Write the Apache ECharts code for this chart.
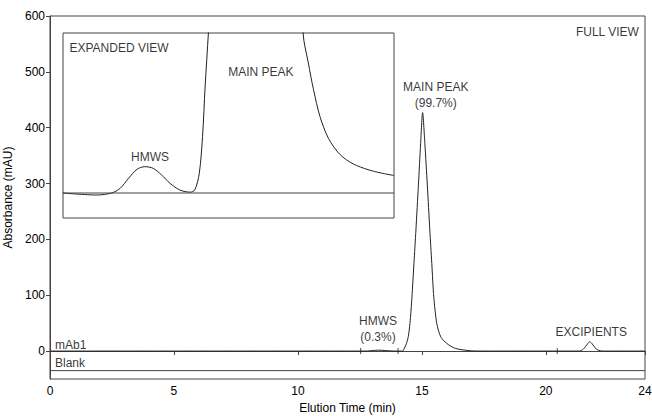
<!DOCTYPE html>
<html>
<head>
<meta charset="utf-8">
<script src="https://cdn.jsdelivr.net/npm/echarts@6/dist/echarts.min.js"></script>
<style>
  html, body { margin: 0; padding: 0; background: #fff; }
  #chart { width: 652px; height: 416px; }
</style>
</head>
<body>
<div id="chart"></div>
<script>
// Full-view chromatogram of mAb1 (elution time in min, absorbance in mAU)
const mab1Time = [0, 12.0, 12.75, 13.0, 13.26, 13.5, 13.8, 14.0, 14.22, 14.29, 14.38, 14.45, 14.52, 14.60,
  14.68, 14.76, 14.86, 14.95, 15.03, 15.12, 15.22, 15.32, 15.40, 15.48, 15.60, 15.76, 16.0, 16.35,
  16.9, 17.3, 21.35, 21.5, 21.6, 21.7, 21.77, 21.85, 21.95, 22.05, 22.2, 22.35, 24];
const mab1Abs = [0, 0, 0, 0.9, 1.6, 1.1, 0.2, 0, 0, 4.8, 13.8, 25.6, 49.6, 97,
  157, 217, 297, 372, 427, 372, 297, 217, 157, 97, 49.6, 25.6, 13.8, 4.8,
  0.8, 0, 0, 3, 8, 14, 16.7, 14, 8, 3, 0.5, 0, 0];

// Blank injection, drawn offset below the sample trace
const blankTime = [0, 24];
const blankAbs = [-35, -35];

// Integration event marks on the sample baseline
const eventTime = [12.53, 14.04, 20.46];

// Expanded view around the HMWS and main peak (same units, zoomed)
const zoomTime = [12.0, 12.52, 12.75, 12.88, 13.01, 13.14, 13.26, 13.39, 13.52, 13.65, 13.80, 13.96,
  14.03, 14.10, 14.15, 14.19, 14.24, 14.30, 14.45, 14.7, 15.03, 15.4, 15.6, 15.70, 15.78, 15.86,
  15.96, 16.09, 16.27, 16.47, 16.7, 16.9, 17.1];
const zoomAbs = [0, -0.12, 0, 0.28, 0.88, 1.42, 1.58, 1.48, 1.08, 0.58, 0.18, 0.05,
  0.18, 1.18, 3.38, 6.4, 9.6, 14, 60, 220, 427, 200, 30, 9.6, 7.8, 6.2,
  4.58, 3.28, 2.3, 1.75, 1.4, 1.2, 1.05];
const zoomBlankTime = [12.0, 17.1];
const zoomBlankAbs = [0, 0];

// Axis ticks
const xTicks = [0, 5, 10, 15, 20, 24];
const yTicks = [0, 100, 200, 300, 400, 500, 600];

// Annotations: text, time, absorbance, alignment
const fullNoteText = ['MAIN PEAK\n(99.7%)', 'HMWS\n(0.3%)', 'EXCIPIENTS', 'mAb1', 'Blank', 'FULL VIEW'];
const fullNoteTime = [15.56, 13.23, 21.83, 0.2, 0.2, 23.75];
const fullNoteAbs = [459, 39, 34.6, 10.7, -22, 572];
const fullNoteAlign = ['center', 'center', 'center', 'left', 'left', 'right'];

const zoomNoteText = ['EXPANDED VIEW', 'MAIN PEAK', 'HMWS'];
const zoomNoteTime = [12.1, 15.05, 13.34];
const zoomNoteAbs = [8.68, 7.28, 2.18];
const zoomNoteAlign = ['left', 'center', 'center'];

const ink = '#000';
const lineInk = '#222';
const axisInk = '#444';
const font = 'Liberation Sans, Arial, sans-serif';

const pairs = (xs, ys) => xs.map((x, i) => [x, ys[i]]);
const notes = (texts, xs, ys, aligns) => texts.map((t, i) => ({
  value: [xs[i], ys[i]],
  label: { formatter: t, align: aligns[i] }
}));

const chart = echarts.init(document.getElementById('chart'), null, { renderer: 'svg' });

chart.setOption({
  animation: false,
  backgroundColor: '#fff',
  textStyle: { fontFamily: font },
  grid: [
    { left: 50, right: 7, top: 16, bottom: 37, show: true, borderColor: axisInk, borderWidth: 1,
      containLabel: false, outerBoundsMode: 'none' },
    { left: 63, top: 33, width: 331, height: 185, show: true, borderColor: axisInk, borderWidth: 1,
      backgroundColor: '#fff', z: 5, containLabel: false, outerBoundsMode: 'none' }
  ],
  xAxis: [
    {
      type: 'value', gridIndex: 0, min: 0, max: 24,
      name: 'Elution Time (min)', nameLocation: 'middle', nameGap: 22,
      nameTextStyle: { fontSize: 12, color: ink, fontFamily: font },
      axisLine: { show: true, lineStyle: { color: axisInk, width: 1 } },
      axisTick: { show: true, length: 4, customValues: xTicks, lineStyle: { color: axisInk } },
      axisLabel: { customValues: xTicks, margin: 6, fontSize: 12, color: ink, fontFamily: font },
      splitLine: { show: false }
    },
    {
      type: 'value', gridIndex: 1, min: 12.0, max: 17.1, show: false, splitLine: { show: false }
    }
  ],
  yAxis: [
    {
      type: 'value', gridIndex: 0, min: -50, max: 600,
      name: 'Absorbance (mAU)', nameLocation: 'middle', nameGap: 29, nameRotate: 90,
      nameTextStyle: { fontSize: 12, color: ink, fontFamily: font },
      axisLine: { show: true, lineStyle: { color: axisInk, width: 1 } },
      axisTick: { show: true, length: 4, customValues: yTicks, lineStyle: { color: axisInk } },
      axisLabel: { customValues: yTicks, margin: 5, fontSize: 12, color: ink, fontFamily: font },
      splitLine: { show: false }
    },
    {
      type: 'value', gridIndex: 1, min: -1.5, max: 9.6, show: false, splitLine: { show: false }
    }
  ],
  series: [
    {
      name: 'mAb1', type: 'line', xAxisIndex: 0, yAxisIndex: 0,
      data: pairs(mab1Time, mab1Abs), showSymbol: false, symbol: 'none', smooth: 0.25,
      lineStyle: { color: lineInk, width: 1 }, z: 3
    },
    {
      name: 'Blank', type: 'line', xAxisIndex: 0, yAxisIndex: 0,
      data: pairs(blankTime, blankAbs), showSymbol: false, symbol: 'none',
      lineStyle: { color: axisInk, width: 1 }, z: 3
    },
    {
      name: 'events', type: 'scatter', xAxisIndex: 0, yAxisIndex: 0,
      data: eventTime.map(t => [t, 0]), symbol: 'rect', symbolSize: [1, 6],
      itemStyle: { color: lineInk }, z: 3
    },
    {
      name: 'fullNotes', type: 'scatter', xAxisIndex: 0, yAxisIndex: 0,
      data: notes(fullNoteText, fullNoteTime, fullNoteAbs, fullNoteAlign), symbolSize: 0,
      label: { show: true, position: 'inside', fontSize: 12, lineHeight: 16, color: ink, fontFamily: font,
        verticalAlign: 'middle' },
      z: 4
    },
    {
      name: 'expanded', type: 'line', xAxisIndex: 1, yAxisIndex: 1,
      data: pairs(zoomTime, zoomAbs), showSymbol: false, symbol: 'none', smooth: 0.3, clip: true,
      lineStyle: { color: lineInk, width: 1 }, z: 6
    },
    {
      name: 'expandedBlank', type: 'line', xAxisIndex: 1, yAxisIndex: 1,
      data: pairs(zoomBlankTime, zoomBlankAbs), showSymbol: false, symbol: 'none',
      lineStyle: { color: axisInk, width: 1 }, z: 6
    },
    {
      name: 'zoomNotes', type: 'scatter', xAxisIndex: 1, yAxisIndex: 1,
      data: notes(zoomNoteText, zoomNoteTime, zoomNoteAbs, zoomNoteAlign), symbolSize: 0,
      label: { show: true, position: 'inside', fontSize: 12, color: ink, fontFamily: font,
        verticalAlign: 'middle' },
      z: 7
    }
  ]
});
</script>
</body>
</html>
